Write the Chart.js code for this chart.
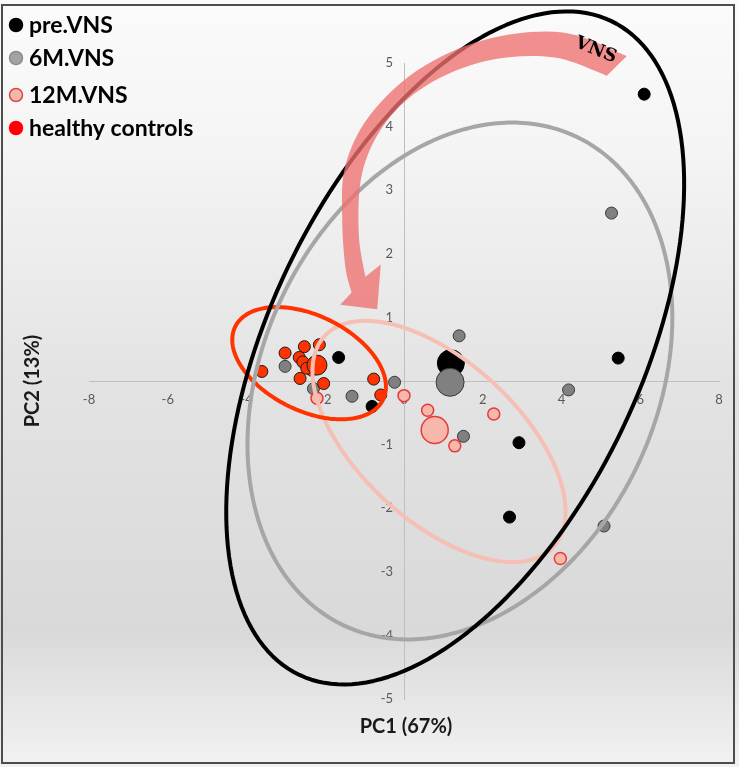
<!DOCTYPE html>
<html>
<head>
<meta charset="utf-8">
<script src="https://cdn.jsdelivr.net/npm/chart.js@4.4.1/dist/chart.umd.min.js"></script>
<style>
  html, body { margin: 0; padding: 0; background: #fff; }
  #wrap { width: 739px; height: 767px; }
</style>
</head>
<body>
<div id="wrap"><canvas id="pca" width="739" height="767"></canvas></div>
<script>
// PC1 / PC2 scores (last entry of each group = group mean, big dot)
const preX = [-1.66, -0.81, 5.44, 2.92, 2.68, 6.10, 1.19];
const preY = [0.37, -0.40, 0.36, -0.97, -2.14, 4.51, 0.28];

const m6X = [1.40, -0.24, -1.32, -3.02, -2.30, 4.18, 1.51, 5.08, 5.27, 1.17];
const m6Y = [0.71, -0.02, -0.24, 0.23, -0.12, -0.14, -0.87, -2.28, 2.64, -0.02];

const m12X = [0.00, -2.21, 0.60, 1.29, 2.28, 3.97, 0.78];
const m12Y = [-0.23, -0.27, -0.46, -1.02, -0.52, -2.79, -0.77];

const hcX = [-3.61, -3.02, -2.53, -2.15, -2.66, -2.57, -2.34, -2.47, -2.64, -2.04, -0.77, -0.59, -2.21];
const hcY = [0.15, 0.44, 0.54, 0.57, 0.37, 0.30, 0.17, 0.20, 0.04, -0.04, 0.03, -0.22, 0.25];

const xTicks = [-8, -6, -4, -2, 0, 2, 4, 6, 8];
const yTicks = [-5, -4, -3, -2, -1, 1, 2, 3, 4, 5];

// confidence ellipses: [centerX, centerY, semi-diameter u (x, y), conjugate semi-diameter v (x, y)]
const preEllipse = [1.30, 0.52, 3.955, 5.142, -4.263, 1.250];
const m6Ellipse = [1.42, 0.00, 2.955, 3.842, -4.514, 1.323];
const m12Ellipse = [0.89, -0.95, 2.903, -1.659, 1.380, 0.920];
const hcEllipse = [-2.41, 0.28, 1.876, -0.575, 0.538, 0.669];

// curved "VNS" arrow outline, in data units
const arrowOuterX = [5.66, 4.03, 2.08, 0.38, -0.89, -1.49, -1.57, -1.49, -1.33];
const arrowOuterY = [5.11, 5.48, 5.37, 4.90, 4.16, 3.38, 2.59, 1.80, 1.39];
const arrowHeadX = [-1.62, -0.68, -0.59];
const arrowHeadY = [1.20, 1.13, 1.83];
const arrowInnerX = [-0.98, -1.15, -1.06, -0.47, 0.55, 2.08, 3.78, 5.15];
const arrowInnerY = [1.64, 2.33, 3.28, 4.06, 4.64, 5.03, 5.09, 4.80];
const arrowLabel = { x: 4.87, y: 5.20, text: 'VNS' };

const legendItems = [
  { label: 'pre.VNS', fill: '#000000', stroke: '#000000' },
  { label: '6M.VNS', fill: '#a3a3a3', stroke: '#8c8c8c' },
  { label: '12M.VNS', fill: '#f3b8ac', stroke: '#e0474a' },
  { label: 'healthy controls', fill: '#ff0000', stroke: '#ff0000' }
];

function toPoints(xs, ys) {
  return xs.map((x, i) => ({ x: x, y: ys[i] }));
}

function radii(n, small, big) {
  return Array.from({ length: n }, (_, i) => (i === n - 1 ? big : small));
}

function smoothTo(ctx, pts, move) {
  if (move) ctx.moveTo(pts[0][0], pts[0][1]);
  else ctx.lineTo(pts[0][0], pts[0][1]);
  for (let i = 0; i < pts.length - 1; i++) {
    const p0 = pts[i - 1] || pts[i];
    const p1 = pts[i];
    const p2 = pts[i + 1];
    const p3 = pts[i + 2] || p2;
    ctx.bezierCurveTo(
      p1[0] + (p2[0] - p0[0]) / 6, p1[1] + (p2[1] - p0[1]) / 6,
      p2[0] - (p3[0] - p1[0]) / 6, p2[1] - (p3[1] - p1[1]) / 6,
      p2[0], p2[1]
    );
  }
}

function drawEllipse(ctx, sx, sy, e, color, width) {
  const [cx, cy, ux, uy, vx, vy] = e;
  ctx.beginPath();
  for (let k = 0; k <= 180; k++) {
    const t = k / 180 * Math.PI * 2;
    const px = sx.getPixelForValue(cx + ux * Math.cos(t) + vx * Math.sin(t));
    const py = sy.getPixelForValue(cy + uy * Math.cos(t) + vy * Math.sin(t));
    if (k === 0) ctx.moveTo(px, py); else ctx.lineTo(px, py);
  }
  ctx.closePath();
  ctx.strokeStyle = color;
  ctx.lineWidth = width;
  ctx.stroke();
}

const backdrop = {
  id: 'backdrop',
  beforeDraw(chart) {
    const ctx = chart.ctx;
    const { width, height } = chart;
    ctx.save();
    const g = ctx.createLinearGradient(0, 0, 0, height);
    g.addColorStop(0, '#fbfbfb');
    g.addColorStop(0.2, '#f4f4f4');
    g.addColorStop(0.5, '#e3e3e3');
    g.addColorStop(0.82, '#d9d9d9');
    g.addColorStop(1, '#f2f2f2');
    ctx.fillStyle = g;
    ctx.fillRect(0, 0, width, height);
    ctx.restore();
  },
  beforeDatasetsDraw(chart) {
    // y tick labels sit left of the crossing axis line
    const ctx = chart.ctx;
    const sx = chart.scales.x;
    const sy = chart.scales.y;
    const x0 = sx.getPixelForValue(0);
    ctx.save();
    ctx.fillStyle = '#595959';
    ctx.font = '13px Lato';
    ctx.textAlign = 'right';
    ctx.textBaseline = 'middle';
    yTicks.forEach(v => ctx.fillText(String(v), x0 - 11, sy.getPixelForValue(v)));
    ctx.restore();
  }
};

const overlays = {
  id: 'overlays',
  afterDatasetsDraw(chart) {
    const ctx = chart.ctx;
    const sx = chart.scales.x;
    const sy = chart.scales.y;
    ctx.save();
    ctx.lineJoin = 'round';
    drawEllipse(ctx, sx, sy, m12Ellipse, '#f6bfb3', 4);
    drawEllipse(ctx, sx, sy, hcEllipse, '#ff3300', 4);
    drawEllipse(ctx, sx, sy, m6Ellipse, '#a6a6a6', 4);
    drawEllipse(ctx, sx, sy, preEllipse, '#000000', 4);

    // curved arrow
    const px = (x, y) => [sx.getPixelForValue(x), sy.getPixelForValue(y)];
    const outer = arrowOuterX.map((x, i) => px(x, arrowOuterY[i]));
    const inner = arrowInnerX.map((x, i) => px(x, arrowInnerY[i]));
    const head = arrowHeadX.map((x, i) => px(x, arrowHeadY[i]));
    ctx.beginPath();
    smoothTo(ctx, outer, true);
    head.forEach(p => ctx.lineTo(p[0], p[1]));
    smoothTo(ctx, inner, false);
    ctx.closePath();
    ctx.fillStyle = 'rgba(238, 112, 112, 0.78)';
    ctx.fill();

    const lp = px(arrowLabel.x, arrowLabel.y);
    ctx.translate(lp[0], lp[1]);
    ctx.rotate(22 * Math.PI / 180);
    ctx.fillStyle = '#000';
    ctx.font = 'bold 18px "DejaVu Serif"';
    ctx.textAlign = 'center';
    ctx.textBaseline = 'middle';
    ctx.fillText(arrowLabel.text, 0, 0);
    ctx.restore();
  },
  afterDraw(chart) {
    const ctx = chart.ctx;
    ctx.save();
    // legend
    const rowY = [25, 58, 95, 128];
    legendItems.forEach((item, i) => {
      ctx.beginPath();
      ctx.arc(16, rowY[i], 6.5, 0, Math.PI * 2);
      ctx.fillStyle = item.fill;
      ctx.fill();
      ctx.lineWidth = 1.5;
      ctx.strokeStyle = item.stroke;
      ctx.stroke();
      ctx.fillStyle = '#000';
      ctx.font = 'bold 23px Lato';
      ctx.textAlign = 'left';
      ctx.textBaseline = 'middle';
      ctx.fillText(item.label, 29, rowY[i] + 1);
    });

    // axis titles
    ctx.font = 'bold 20px Lato';
    ctx.fillStyle = '#1a1a1a';
    ctx.textAlign = 'center';
    ctx.textBaseline = 'middle';
    ctx.fillText('PC1 (67%)', 406, 727);
    ctx.translate(33, 381);
    ctx.rotate(-Math.PI / 2);
    ctx.fillText('PC2 (13%)', 0, 0);
    ctx.restore();

    // frame
    ctx.save();
    ctx.strokeStyle = '#4d4d4d';
    ctx.lineWidth = 2;
    ctx.strokeRect(2, 5, 732, 758);
    ctx.restore();
  }
};

new Chart(document.getElementById('pca'), {
  type: 'scatter',
  data: {
    datasets: [
      {
        label: 'healthy controls',
        data: toPoints(hcX, hcY),
        backgroundColor: '#ff3300',
        borderColor: '#1a1a1a',
        borderWidth: 1,
        pointRadius: radii(hcX.length, 6, 10)
      },
      {
        label: '12M.VNS',
        data: toPoints(m12X, m12Y),
        backgroundColor: '#f5b8ab',
        borderColor: '#e8393a',
        borderWidth: 1.5,
        pointRadius: radii(m12X.length, 6, 13.5)
      },
      {
        label: '6M.VNS',
        data: toPoints(m6X, m6Y),
        backgroundColor: '#808080',
        borderColor: '#3a3a3a',
        borderWidth: 1,
        pointRadius: radii(m6X.length, 6, 14)
      },
      {
        label: 'pre.VNS',
        data: toPoints(preX, preY),
        backgroundColor: '#000000',
        borderColor: '#000000',
        borderWidth: 1,
        pointRadius: radii(preX.length, 6, 13.5)
      }
    ]
  },
  options: {
    responsive: false,
    animation: false,
    layout: { padding: { left: 89, right: 20, top: 63, bottom: 68 } },
    plugins: {
      legend: { display: false },
      tooltip: { enabled: false }
    },
    scales: {
      x: {
        type: 'linear',
        min: -8,
        max: 8,
        position: { y: 0 },
        afterBuildTicks: scale => { scale.ticks = xTicks.map(v => ({ value: v })); },
        grid: { display: false, drawTicks: false },
        border: { display: true, color: '#bfbfbf', width: 1 },
        ticks: { color: '#595959', font: { family: 'Lato', size: 13 }, padding: 11, maxRotation: 0, autoSkip: false }
      },
      y: {
        type: 'linear',
        min: -5,
        max: 5,
        position: { x: 0 },
        afterBuildTicks: scale => { scale.ticks = yTicks.map(v => ({ value: v })); },
        grid: { display: false, drawTicks: false },
        border: { display: true, color: '#bfbfbf', width: 1 },
        ticks: { display: false }
      }
    }
  },
  plugins: [backdrop, overlays]
});
</script>
</body>
</html>
